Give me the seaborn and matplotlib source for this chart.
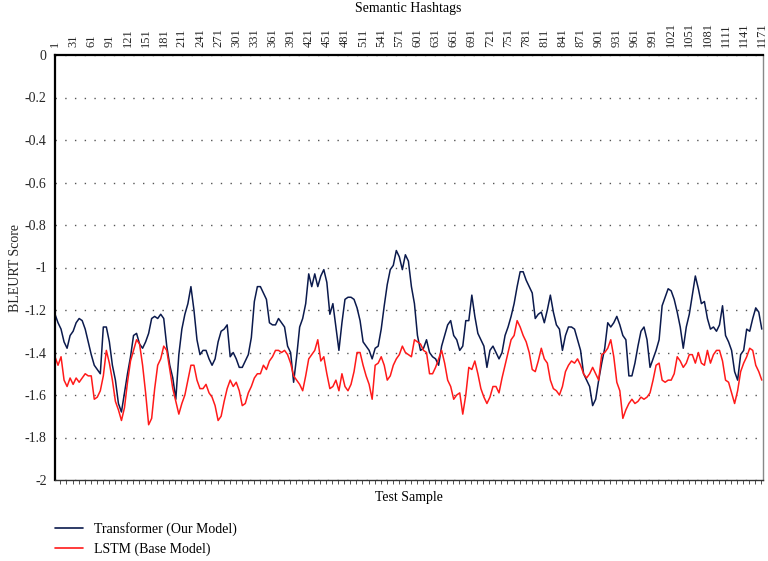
import numpy as np
import pandas as pd
import matplotlib
matplotlib.use("Agg")
import matplotlib.pyplot as plt
import matplotlib.ticker as ticker
import seaborn as sns

sns.set_theme(style="white")
plt.rcParams["font.family"] = ["Liberation Serif", "DejaVu Serif"]
plt.rcParams["text.color"] = "black"

# readings taken every 5 test samples (1, 6, 11, ..., 1171)
sample_step = 5
transformer = [
    -1.22, -1.26, -1.29, -1.35, -1.38, -1.32, -1.30, -1.26, -1.24, -1.25,
    -1.29, -1.35, -1.41, -1.46, -1.48, -1.50, -1.28, -1.28, -1.35, -1.46,
    -1.53, -1.64, -1.68, -1.59, -1.50, -1.42, -1.32, -1.31, -1.36, -1.38,
    -1.35, -1.31, -1.24, -1.23, -1.24, -1.22, -1.24, -1.37, -1.46, -1.52,
    -1.62, -1.41, -1.29, -1.22, -1.17, -1.09, -1.20, -1.34, -1.41, -1.39,
    -1.39, -1.43, -1.46, -1.43, -1.35, -1.30, -1.29, -1.27, -1.42, -1.40,
    -1.43, -1.47, -1.47, -1.44, -1.41, -1.33, -1.16, -1.09, -1.09, -1.12,
    -1.15, -1.26, -1.27, -1.27, -1.24, -1.26, -1.28, -1.37,
    -1.40, -1.54, -1.42, -1.28, -1.24, -1.17, -1.03, -1.09, -1.03, -1.09,
    -1.04, -1.01, -1.07, -1.22, -1.17, -1.28, -1.39, -1.26, -1.15, -1.14,
    -1.14, -1.15, -1.19, -1.25, -1.35, -1.37, -1.39, -1.43, -1.38, -1.37,
    -1.29, -1.18, -1.08, -1.01, -0.99, -0.92, -0.95, -1.01, -0.94, -0.97,
    -1.09, -1.17, -1.32, -1.39, -1.38, -1.34, -1.40, -1.42, -1.43, -1.46,
    -1.37, -1.32, -1.27, -1.25, -1.32, -1.34, -1.39, -1.37, -1.25, -1.25,
    -1.13, -1.23, -1.31, -1.34, -1.37, -1.47, -1.39, -1.37, -1.40, -1.43,
    -1.40, -1.32, -1.28, -1.23, -1.17, -1.09, -1.02, -1.02, -1.06, -1.09,
    -1.12, -1.24, -1.22, -1.21, -1.26, -1.20, -1.13, -1.21, -1.27, -1.29,
    -1.39, -1.32, -1.28, -1.28, -1.29, -1.34, -1.39, -1.50, -1.53, -1.56,
    -1.65, -1.62, -1.53, -1.45, -1.38, -1.26, -1.28, -1.26, -1.23, -1.27,
    -1.32, -1.34, -1.51, -1.51, -1.45, -1.37, -1.30, -1.28, -1.34, -1.47,
    -1.43, -1.39, -1.34, -1.18, -1.14, -1.10, -1.11, -1.15, -1.21, -1.28,
    -1.38, -1.28, -1.22, -1.13, -1.04, -1.10, -1.17, -1.16, -1.24, -1.29,
    -1.28, -1.30, -1.27, -1.18, -1.32, -1.35, -1.39, -1.49, -1.53, -1.41,
    -1.39, -1.29, -1.30, -1.24, -1.19, -1.21, -1.29,
]
lstm = [
    -1.42, -1.46, -1.42, -1.53, -1.56, -1.52, -1.55, -1.52, -1.54, -1.52,
    -1.50, -1.51, -1.51, -1.62, -1.61, -1.58, -1.51, -1.39, -1.45, -1.53,
    -1.63, -1.67, -1.72, -1.66, -1.54, -1.44, -1.39, -1.34, -1.36, -1.46,
    -1.59, -1.74, -1.71, -1.57, -1.46, -1.43, -1.37, -1.39, -1.48, -1.57,
    -1.63, -1.69, -1.64, -1.60, -1.53, -1.46, -1.46, -1.53, -1.57, -1.57,
    -1.55, -1.59, -1.61, -1.65, -1.72, -1.70, -1.63, -1.57, -1.53, -1.56,
    -1.54, -1.58, -1.65, -1.64, -1.59, -1.56, -1.52, -1.50, -1.50, -1.46,
    -1.48, -1.44, -1.42, -1.39, -1.39, -1.40, -1.39, -1.41,
    -1.45, -1.51, -1.53, -1.55, -1.58, -1.51, -1.43, -1.41, -1.39, -1.34,
    -1.44, -1.42, -1.50, -1.57, -1.56, -1.53, -1.58, -1.50, -1.56, -1.58,
    -1.55, -1.49, -1.40, -1.40, -1.46, -1.51, -1.55, -1.62, -1.46, -1.45,
    -1.42, -1.46, -1.53, -1.51, -1.46, -1.43, -1.41, -1.37, -1.40, -1.41,
    -1.42, -1.34, -1.35, -1.36, -1.39, -1.40, -1.50, -1.50, -1.47, -1.43,
    -1.39, -1.45, -1.53, -1.56, -1.62, -1.60, -1.59, -1.69, -1.60, -1.47,
    -1.48, -1.44, -1.50, -1.57, -1.61, -1.64, -1.61, -1.56, -1.56, -1.59,
    -1.52, -1.46, -1.40, -1.34, -1.32, -1.25, -1.28, -1.32, -1.35, -1.40,
    -1.48, -1.49, -1.44, -1.38, -1.43, -1.45, -1.53, -1.57, -1.58, -1.60,
    -1.56, -1.49, -1.46, -1.44, -1.45, -1.43, -1.46, -1.50, -1.52, -1.50,
    -1.47, -1.50, -1.53, -1.41, -1.40, -1.38, -1.34, -1.42, -1.54, -1.58,
    -1.71, -1.67, -1.64, -1.62, -1.64, -1.63, -1.61, -1.62, -1.61, -1.59,
    -1.53, -1.46, -1.45, -1.53, -1.54, -1.53, -1.53, -1.50, -1.42, -1.44,
    -1.47, -1.45, -1.41, -1.41, -1.45, -1.40, -1.45, -1.46, -1.39, -1.45,
    -1.41, -1.39, -1.39, -1.44, -1.53, -1.54, -1.59, -1.64, -1.58, -1.49,
    -1.45, -1.42, -1.38, -1.39, -1.46, -1.49, -1.53,
]
series_names = ["Transformer (Our Model)", "LSTM (Base Model)"]
series_colors = ["#0b1a4d", "#ff1a1a"]
top_tick_labels = list(range(1, 1172, 30))
y_ticks = [0, -0.2, -0.4, -0.6, -0.8, -1, -1.2, -1.4, -1.6, -1.8, -2]

samples = np.arange(len(transformer)) * sample_step + 1
df = pd.concat([
    pd.DataFrame({"sample": samples, "score": transformer, "model": series_names[0]}),
    pd.DataFrame({"sample": samples, "score": lstm, "model": series_names[1]}),
])

fig = plt.figure(figsize=(7.68, 5.61), dpi=100)
ax = fig.add_axes([55 / 768, 1 - 480 / 561, 708 / 768, 425 / 561])

sns.lineplot(
    data=df, x="sample", y="score", hue="model",
    palette=dict(zip(series_names, series_colors)),
    estimator=None, linewidth=1.1, ax=ax, legend=False,
)

ax.set_xlim(1, 1173)
ax.set_ylim(-2, 0)
ax.set_yticks(y_ticks)
ax.set_yticklabels([f"{v:g}" for v in y_ticks])
ax.set_xticks(top_tick_labels)
ax.set_xticklabels([str(t) for t in top_tick_labels], rotation=90)
ax.xaxis.set_minor_locator(ticker.MultipleLocator(10))
ax.xaxis.tick_top()
ax.tick_params(axis="x", which="major", top=True, bottom=False, length=0,
               pad=6, labelsize=9)
ax.tick_params(axis="x", which="minor", bottom=True, top=False, length=3,
               width=0.6, color="#333333", direction="out")
ax.tick_params(axis="y", left=False, length=0, pad=6, labelsize=10)
ax.set_xlabel("")
ax.set_ylabel("BLEURT Score", fontsize=10, labelpad=2)

ax.yaxis.grid(True, linestyle=(0, (1, 6)), color="#555555", linewidth=1)
ax.xaxis.grid(False)

for side, lw, col in [("top", 1.6, "black"), ("left", 1.6, "black"),
                      ("bottom", 1.0, "#333333"), ("right", 1.0, "#888888")]:
    ax.spines[side].set_visible(True)
    ax.spines[side].set_linewidth(lw)
    ax.spines[side].set_color(col)

fig.text(0.531, 0.997, "Semantic Hashtags", ha="center", va="top", fontsize=10)
fig.text(0.533, 1 - 497 / 561, "Test Sample", ha="center", va="center", fontsize=10)

handles = [plt.Line2D([], [], color=c, linewidth=1.2) for c in series_colors]
fig.legend(handles, series_names, loc="upper left",
           bbox_to_anchor=(55 / 768, 1 - 522 / 561), bbox_transform=fig.transFigure,
           frameon=False, borderpad=0, borderaxespad=0, handlelength=2.0,
           handletextpad=0.8, labelspacing=0.45, fontsize=10)

fig.savefig("out.png", dpi=100)
